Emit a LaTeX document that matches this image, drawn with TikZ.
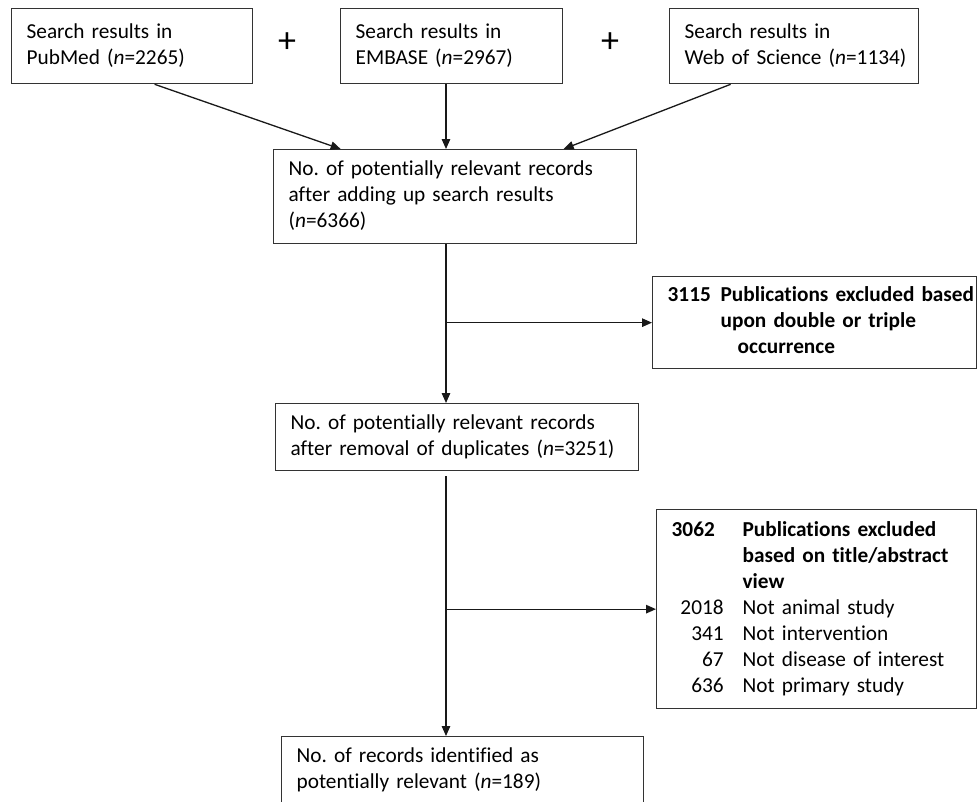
\documentclass[tikz,border=0pt]{standalone}
\usepackage{fontspec}
\setmainfont{Carlito}[Ligatures={NoCommon}]
\usetikzlibrary{arrows.meta,calc}
\newcommand{\nn}{\textit{n}}
\frenchspacing
\begin{document}
\begin{tikzpicture}[x=1pt,y=-1pt,
  box/.style={draw=black!80, line width=1.3pt, rectangle, anchor=north west,
    align=left, inner xsep=15pt, inner ysep=0pt,
    font=\fontsize{21.3}{26}\selectfont},
  arr/.style={draw=black!90, line width=1.3pt, -{Triangle[length=10pt,width=8.5pt]}},
  plus/.style={font=\fontsize{36}{36}\selectfont}]
\useasboundingbox (0,0) rectangle (980,801);
\clip (0,0) rectangle (980,801);
\fill[white] (0,0) rectangle (980,801);

\node[box, text width=211pt, minimum height=75pt] (pub) at (11,8)
  {\begin{tabular}{@{}l@{}}Search results in\\PubMed (\nn=2265)\end{tabular}};
\node[box, text width=192pt, minimum height=75pt] (emb) at (340,8)
  {\begin{tabular}{@{}l@{}}Search results in\\EMBASE (\nn=2967)\end{tabular}};
\node[box, text width=219pt, minimum height=75pt] (wos) at (669,8)
  {\begin{tabular}{@{}l@{}}Search results in\\Web of Science (\nn=1134)\end{tabular}};
\node[plus] (p1) at (287,43) {+};
\node[plus] (p2) at (610,43) {+};

\node[box, text width=333pt, minimum height=94pt] (comb) at (273,149)
  {\begin{tabular}{@{}l@{}}No. of potentially relevant records\\after adding up search results\\(\nn=6366)\end{tabular}};

\node[box, text width=294pt, minimum height=92pt] (ex1) at (652,276)
  {\begin{tabular}{@{}l@{}}\textbf{\makebox[53pt][l]{3115}Publications excluded based}\\
   \hspace*{53pt}\textbf{upon double or triple}\\
   \hspace*{70pt}\textbf{occurrence}\end{tabular}};

\node[box, text width=333pt, minimum height=67pt] (dup) at (275,403)
  {\begin{tabular}{@{}l@{}}No. of potentially relevant records\\after removal of duplicates (\nn=3251)\end{tabular}};

\node[box, text width=290pt, minimum height=199pt] (ex2) at (656,509)
  {\begin{tabular}{@{}l@{}}\makebox[71pt][l]{\textbf{3062}}\textbf{Publications excluded}\\
   \hspace*{71pt}\textbf{based on title/abstract}\\
   \hspace*{71pt}\textbf{view}\\
   \makebox[52pt][r]{2018}\hspace*{19pt}Not animal study\\
   \makebox[52pt][r]{341}\hspace*{19pt}Not intervention\\
   \makebox[52pt][r]{67}\hspace*{19pt}Not disease of interest\\
   \makebox[52pt][r]{636}\hspace*{19pt}Not primary study\end{tabular}};

\node[box, text width=332pt, minimum height=67pt] (fin) at (281,736)
  {\begin{tabular}{@{}l@{}}No. of records identified as\\potentially relevant (\nn=189)\end{tabular}};

\coordinate (sp) at (446,0);
\draw[arr] ([xshift=22.5pt]pub.south) -- ([xshift=-114.5pt]comb.north);
\draw[arr] (emb.south -| sp) -- (comb.north -| sp);
\draw[arr] ([xshift=-63.5pt]wos.south) -- ([xshift=108.5pt]comb.north);
\draw[arr] (comb.south -| sp) -- (dup.north -| sp);
\draw[arr] (sp |- ex1.west) -- (ex1.west);
\draw[arr, shorten <=5pt] (dup.south -| sp) -- (fin.north -| sp);
\draw[arr] (sp |- ex2.west) -- (ex2.west);
\end{tikzpicture}
\end{document}
